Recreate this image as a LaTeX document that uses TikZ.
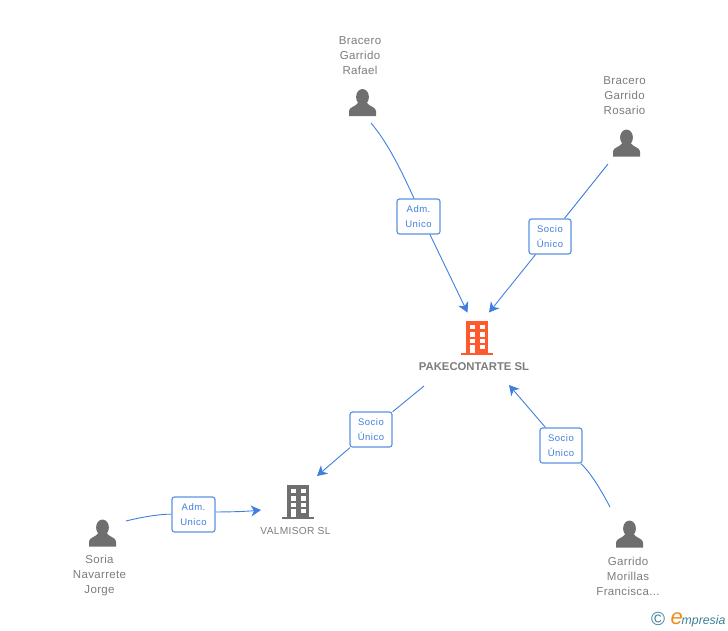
\documentclass[tikz,border=0pt]{standalone}
\usepackage{fontspec}
\setmainfont{Liberation Sans}
\newfontfamily\labelfont[LetterSpace=3]{Liberation Sans}
\newfontfamily\rolefont[LetterSpace=5]{Liberation Sans}
\usetikzlibrary{positioning,arrows.meta}
\definecolor{linkblue}{HTML}{3F7FE0}
\definecolor{boxblue}{HTML}{5B93E3}
\definecolor{textgrey}{HTML}{7C7C7C}
\definecolor{icongrey}{HTML}{6F6F6F}
\definecolor{roofred}{HTML}{FF5A2E}
\definecolor{logoteal}{HTML}{3C7F96}
\definecolor{logoorange}{HTML}{F08A1E}
\tikzset{
  caption/.style={text=textgrey, font=\labelfont\fontsize{11.5}{15}\selectfont, align=center, inner sep=0pt},
  role/.style={draw=boxblue, line width=1.2pt, rounded corners=2.5pt, fill=white, text=linkblue,
    font=\rolefont\fontsize{9.5}{15}\selectfont, align=center, minimum width=43pt, minimum height=35pt, inner sep=0pt},
  link/.style={linkblue, line width=0.9pt},
  arrowlink/.style={link, -{Stealth[length=10pt,width=11pt,inset=3pt]}},
  pics/personicon/.style={code={
    \fill[icongrey] (0,-5.5) ellipse (6.4pt and 8pt);
    \fill[icongrey] (-13.5,13.5) -- (-13.5,8.5) .. controls (-13.5,4.5) and (-6.5,4) .. (-4,0) -- (4,0)
      .. controls (6.5,4) and (13.5,4.5) .. (13.5,8.5) -- (13.5,13.5) -- cycle;
  }},
  pics/buildingicon/.style={code={
    \fill[#1] (-11,-17) rectangle (11,15);
    \fill[#1] (-16,14.5) rectangle (16,17);
    \foreach \wx in {-7.5,2.5}
      \foreach \wy in {-13,-5.8,1,7}
        \fill[white] (\wx,\wy) rectangle +(5,4.4);
    \fill[white] (-7.5,7) rectangle (-2.5,14.5);
  }},
}
\begin{document}
\begin{tikzpicture}[x=1pt,y=-1pt]
\useasboundingbox (0,0) rectangle (728,630);

% people
\node[caption] (rafaelname) at (360,56) {Bracero\\Garrido\\Rafael};
\coordinate (rafael) at (362.5,102.5);
\pic at (rafael) {personicon};
\node[caption] (rosarioname) at (624.5,96) {Bracero\\Garrido\\Rosario};
\coordinate (rosario) at (626.5,143);
\pic at (rosario) {personicon};
\node[caption] (jorgename) at (99.5,576) {Soria\\Navarrete\\Jorge};
\coordinate (jorge) at (102.5,533);
\pic at (jorge) {personicon};
\node[caption] (franciscaname) at (628,576) {Garrido\\Morillas\\Francisca...};
\coordinate (francisca) at (629.5,534);
\pic at (francisca) {personicon};

% companies
\coordinate (pake) at (477,338);
\pic at (pake) {buildingicon=roofred};
\node[caption, font=\bfseries\fontsize{11.3}{14}\selectfont] (pakename) at (474,367) {PAKECONTARTE SL};
\coordinate (valmisor) at (298,502);
\pic at (valmisor) {buildingicon=icongrey};
\node[caption, font=\labelfont\fontsize{10.2}{14}\selectfont] (valmisorname) at (295.5,531) {VALMISOR SL};

% roles
\node[role] (admA) at (418.5,216.5) {Adm.\\Unico};
\node[role, minimum width=42pt] (socioA) at (550,236.5) {Socio\\Único};
\node[role, minimum width=42pt] (socioB) at (371,429.5) {Socio\\Único};
\node[role] (admB) at (193.5,514.5) {Adm.\\Unico};
\node[role, minimum width=42pt] (socioC) at (561,445.5) {Socio\\Único};

% free ends of the connectors
\coordinate (a1) at (371,123);
\coordinate (a2) at (467.5,312.5);
\coordinate (b1) at (608,164);
\coordinate (b2) at (489,312.5);
\coordinate (c1) at (424,386);
\coordinate (c2) at (317,476);
\coordinate (d1) at (126,521);
\coordinate (d2) at (261,510);
\coordinate (e1) at (610,507);
\coordinate (e2) at (509,385);

\draw[link] (a1) .. controls (388,143) and (402,172) .. ([xshift=-4.5pt]admA.north);
\draw[arrowlink] ([xshift=11.5pt]admA.south) -- (a2);
\draw[link] (b1) -- (socioA);
\draw[arrowlink] (socioA) -- (b2);
\draw[link] (c1) -- (socioB);
\draw[arrowlink] (socioB) -- (c2);
\draw[link] (d1) .. controls (142,517) and (160,514) .. (admB);
\draw[arrowlink] (admB) .. controls (215,512) and (240,512) .. (d2);
\draw[link] (e1) .. controls (600,488) and (590,472) .. (socioC);
\draw[arrowlink] (socioC) -- (e2);

% logo
\node[inner sep=0pt, text=logoteal, font=\fontsize{19}{19}\selectfont] (copy) at (658,619) {©};
\node[inner sep=0pt, anchor=base west, text=logoorange, font=\itshape\fontsize{22}{22}\selectfont] (logoe) at (670.5,624.5) {e};
\node[inner sep=0pt, anchor=base west, text=logoteal, font=\itshape\fontsize{12.3}{13}\selectfont] (logotext) at (681.5,624) {mpresia};
\end{tikzpicture}
\end{document}
